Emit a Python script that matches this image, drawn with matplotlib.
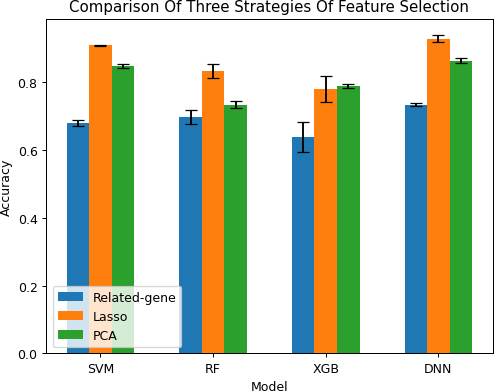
import matplotlib
matplotlib.use("Agg")
import matplotlib.pyplot as plt
import numpy as np

models = ["SVM", "RF", "XGB", "DNN"]
strategies = ["Related-gene", "Lasso", "PCA"]

related_mean = [0.680, 0.697, 0.639, 0.734]
related_err = [0.008, 0.021, 0.045, 0.005]
lasso_mean = [0.909, 0.833, 0.781, 0.929]
lasso_err = [0.001, 0.021, 0.038, 0.011]
pca_mean = [0.847, 0.734, 0.789, 0.864]
pca_err = [0.006, 0.010, 0.006, 0.0065]

# rendered at 90 dpi so the text scale matches the reference
fig, ax = plt.subplots(figsize=(498 / 90, 392 / 90), dpi=90)
x = np.arange(len(models))
w = 0.2

ax.bar(x - w, related_mean, w, yerr=related_err, capsize=5, label=strategies[0])
ax.bar(x, lasso_mean, w, yerr=lasso_err, capsize=5, label=strategies[1])
ax.bar(x + w, pca_mean, w, yerr=pca_err, capsize=5, label=strategies[2])

ax.set_xticks(x)
ax.set_xticklabels(models)
ax.set_xlabel("Model")
ax.set_ylabel("Accuracy")
ax.set_title("Comparison Of Three Strategies Of Feature Selection")
ax.legend(loc="lower left")

plt.subplots_adjust(left=0.093, right=0.989, top=0.949, bottom=0.096)
plt.savefig("out.png")
